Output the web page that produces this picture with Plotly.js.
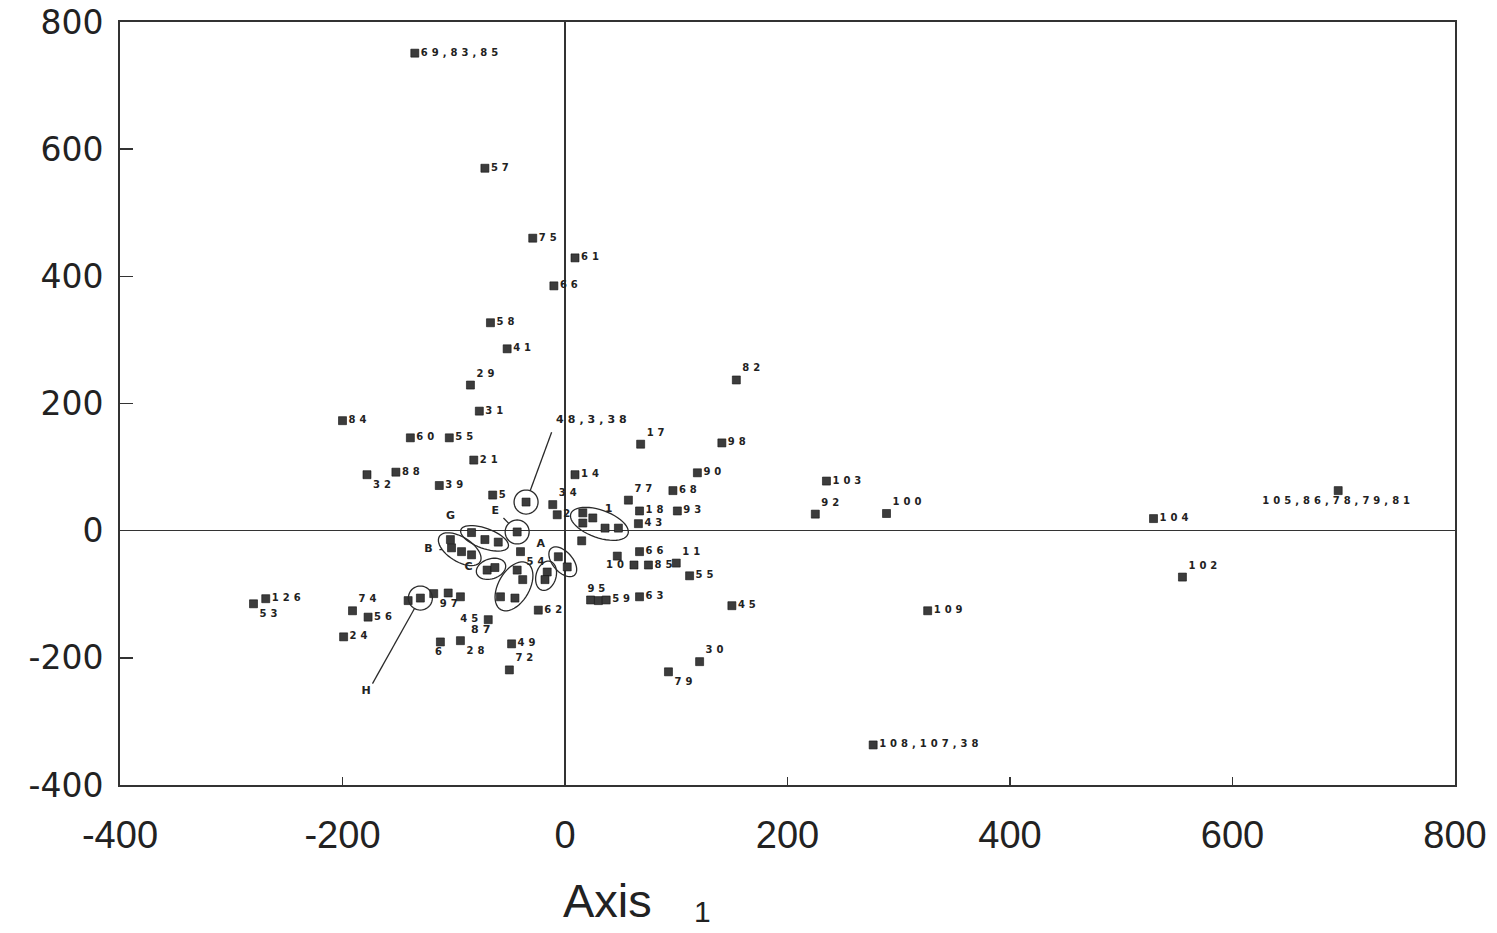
<!DOCTYPE html>
<html><head><meta charset="utf-8">
<script src="https://cdn.plot.ly/plotly-3.0.1.min.js"></script>
<style>
html,body{margin:0;padding:0;background:#fff;}
#chart{width:1497px;height:933px;}
.scatterlayer .textpoint text{letter-spacing:4px;}
</style></head><body><div id="chart"></div>
<script>
// ---- data ----
const ptX = [-135,-72,-29,9,-10,-67,-52,-85,-77,-200,-139,-104,-82,-178,-152,-113,-65,-35,-11,-7,
  16,16,25,36,48,15,-43,-84,-72,-60,-103,-102,-93,-84,-70,-63,-43,-38,-58,-45,
  -40,-16,-18,-6,2,-24,-141,-130,-118,-105,-94,-69,-112,-94,-48,-50,-280,-269,-191,-177,
  -199,9,68,141,119,57,97,67,101,66,154,47,67,62,75,100,112,23,30,37,
  67,150,121,93,277,326,235,225,289,529,695,555];
const ptY = [751,570,460,429,385,327,286,229,188,173,146,146,111,88,92,71,56,45,41,25,
  28,12,20,4,4,-16,-2,-3,-14,-18,-14,-27,-33,-38,-62,-58,-62,-77,-104,-106,
  -33,-65,-77,-41,-57,-125,-110,-106,-99,-98,-104,-140,-175,-173,-178,-219,-115,-107,-126,-136,
  -167,88,136,138,91,48,63,31,31,11,237,-40,-33,-54,-54,-51,-71,-109,-110,-109,
  -104,-118,-206,-222,-337,-126,78,26,27,19,63,-73];
const ptLabel = ["69,83,85","57","75","61","66","58","41","29","31","84","60","55","21","32","88","39","5","","34","2",
  "","","","","","","","","","","","","","","","","","","","",
  "54","","","","","62","","","97","","","45","6","28","49","72","53","126","74","56",
  "24","14","17","98","90","77","68","18","93","43","82","","66","10","85","11","55","","95","59",
  "63","45","30","79","108,107,38","109","103","92","100","104","105,86,78,79,81","102"];
const ptGroup = ["","","","","","","","","","","","","","","","","","K","","",
  "R","R","R","R","R","","E","G","G","G","B","B","B","B","C","C","D","D","D","D",
  "","A1","A1","A2","A2","","","H","","","","","","","","","","","","",
  "","","","","","","","","","","","","","","","","","","","",
  "","","","","","","","","","","",""];
// group / letter labels
const noteText  = ["48,3,38","E","G","B","C","A","H","1","87"];
const noteX     = [-8,-61,-101,-121,-85,-20,-177,41,-74];
const noteY     = [174,30,22,-30,-58,-22,-253,33,-156];
const noteGroup = ["K","E","","B","","","H","",""];
// tick labels
const xTicks = [-400,-200,0,200,400,600,800];
const xTickText = ["-400","-200","0","200","400","600","800"];
const yTicks = [-400,-200,0,200,400,600,800];
const yTickText = ["-400","-200","0","200","400","600","800"];
const xTitleWord = "Axis", xTitleNum = "1";

// ---- styling ----
const pos = {"69,83,85":"middle right","29":"top right","32":"bottom right","34":"top right","97":"bottom right",
  "54":"bottom right","6":"bottom center","28":"bottom right","72":"top right","53":"bottom right","74":"top right",
  "17":"top right","77":"top right","82":"top right","10":"middle left","11":"top right","95":"top center",
  "30":"top right","79":"bottom right","92":"top right","100":"top right","105,86,78,79,81":"bottom center","102":"top right"};
const textPos = ptLabel.map((l,i)=> (i===51 ? "middle left" : (pos[l] || "middle right")));
const notePos = noteText.map(t => t==="48,3,38" ? "middle right" : "middle center");

const W=1497, H=933, M={l:120,r:42,t:22,b:148};
const xRange=[-400,800], yRange=[-400,800];
const sx=(W-M.l-M.r)/(xRange[1]-xRange[0]);
const sy=(H-M.t-M.b)/(yRange[1]-yRange[0]);
const toPx=(x,y)=>[(x-xRange[0])*sx,(yRange[1]-y)*sy];
const toData=(px,py)=>[px/sx+xRange[0], yRange[1]-py/sy];
const RING_PAD=9, RING_SINGLE=12;
const lineStyle={color:'#2a2a2a',width:1.3};

const rings={};
const shapes=[];
[...new Set(ptGroup.filter(g=>g))].forEach(g=>{
  const P=[]; ptGroup.forEach((gg,i)=>{ if(gg===g) P.push(toPx(ptX[i],ptY[i])); });
  let mx=P.reduce((s,p)=>s+p[0],0)/P.length, my=P.reduce((s,p)=>s+p[1],0)/P.length;
  let ang=0, a=RING_SINGLE, b=RING_SINGLE, cx=mx, cy=my;
  if(P.length>1){
    let cxx=0,cyy=0,cxy=0; P.forEach(p=>{cxx+=(p[0]-mx)**2;cyy+=(p[1]-my)**2;cxy+=(p[0]-mx)*(p[1]-my);});
    ang=0.5*Math.atan2(2*cxy,cxx-cyy);
    const u=[Math.cos(ang),Math.sin(ang)], v=[-Math.sin(ang),Math.cos(ang)];
    const pu=P.map(p=>(p[0]-mx)*u[0]+(p[1]-my)*u[1]), pv=P.map(p=>(p[0]-mx)*v[0]+(p[1]-my)*v[1]);
    const u0=Math.min(...pu),u1=Math.max(...pu),v0=Math.min(...pv),v1=Math.max(...pv);
    cx=mx+u[0]*(u0+u1)/2+v[0]*(v0+v1)/2; cy=my+u[1]*(u0+u1)/2+v[1]*(v0+v1)/2;
    a=(u1-u0)/2+RING_PAD+2; b=Math.max((v1-v0)/2+RING_PAD, RING_PAD+1);
  }
  rings[g]={cx,cy,a,b,ang};
  const c=Math.cos(ang), s=Math.sin(ang);
  let path='';
  for(let k=0;k<=48;k++){
    const t=2*Math.PI*k/48;
    const px=cx+c*a*Math.cos(t)-s*b*Math.sin(t), py=cy+s*a*Math.cos(t)+c*b*Math.sin(t);
    const d=toData(px,py);
    path+=(k===0?'M':'L')+d[0].toFixed(2)+','+d[1].toFixed(2);
  }
  shapes.push({type:'path',xref:'x',yref:'y',path:path+'Z',line:lineStyle});
});
// leader lines from labels to their rings
noteText.forEach((t,i)=>{
  const g=noteGroup[i]; if(!g) return;
  const R=rings[g]; const L=toPx(noteX[i],noteY[i]);
  let dx=R.cx-L[0], dy=R.cy-L[1]; const dist=Math.hypot(dx,dy); dx/=dist; dy/=dist;
  const c=Math.cos(R.ang), s=Math.sin(R.ang);
  const du=dx*c+dy*s, dv=-dx*s+dy*c;
  const rr=1/Math.sqrt((du/R.a)**2+(dv/R.b)**2);
  const gap = t.length>2 ? 13 : 9;
  const p0=toData(L[0]+dx*gap, L[1]+dy*gap), p1=toData(R.cx-dx*rr, R.cy-dy*rr);
  shapes.push({type:'line',xref:'x',yref:'y',x0:p0[0],y0:p0[1],x1:p1[0],y1:p1[1],line:lineStyle});
});

const labelFont={family:'DejaVu Sans, Arial',size:10,color:'#222',weight:'bold'};
const traces=[
  {type:'scatter',mode:'markers+text',x:ptX,y:ptY,text:ptLabel,textposition:textPos,textfont:labelFont,
   marker:{symbol:'square',size:8,color:'#3c3c3c',line:{color:'#111',width:0.6}},hoverinfo:'skip',cliponaxis:false},
  {type:'scatter',mode:'text',x:noteX,y:noteY,text:noteText,textposition:notePos,
   textfont:{family:'DejaVu Sans, Arial',size:11,color:'#222',weight:'bold'},hoverinfo:'skip',cliponaxis:false}
];
const axisCommon={showgrid:false,zeroline:true,zerolinecolor:'#333',zerolinewidth:1.6,
  showline:true,mirror:true,linecolor:'#333',linewidth:2,ticks:'inside',tickcolor:'#333',tickwidth:1.5};
const layout={
  width:W,height:H,margin:M,paper_bgcolor:'#fff',plot_bgcolor:'#fff',showlegend:false,hovermode:false,
  xaxis:Object.assign({},axisCommon,{range:xRange,tickvals:xTicks,ticktext:xTickText,ticklen:8,
    tickfont:{family:'Liberation Sans Narrow, Liberation Sans, Arial',size:38,color:'#222'},ticklabelstandoff:15}),
  yaxis:Object.assign({},axisCommon,{range:yRange,tickvals:yTicks,ticktext:yTickText,ticklen:13,
    tickfont:{family:'DejaVu Sans, Arial',size:33,color:'#222'},ticklabelstandoff:8}),
  shapes:shapes,
  annotations:[
    {xref:'paper',yref:'paper',x:0.3648,y:-0.189,xanchor:'center',yanchor:'bottom',showarrow:false,
     text:xTitleWord,font:{family:'Liberation Sans, Arial',size:47,color:'#222'}},
    {xref:'paper',yref:'paper',x:0.436,y:-0.166,xanchor:'center',yanchor:'middle',showarrow:false,
     text:xTitleNum,font:{family:'Liberation Sans, Arial',size:30,color:'#222'}}]
};
Plotly.newPlot('chart',traces,layout,{staticPlot:true,displayModeBar:false});
</script></body></html>
